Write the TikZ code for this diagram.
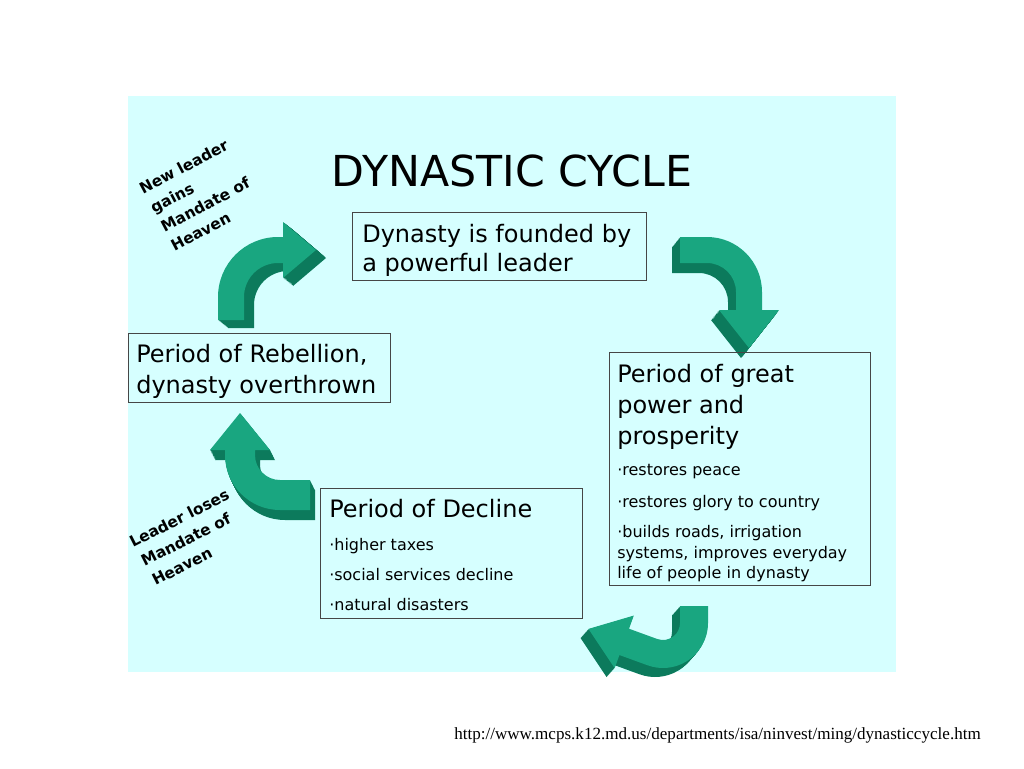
\documentclass[tikz,border=0pt]{standalone}
\usepackage{fontspec}
\setmainfont{DejaVu Sans}
\newfontfamily\urlfont{Liberation Serif}
\usetikzlibrary{calc}
\definecolor{bgcyan}{RGB}{214,255,255}
\definecolor{arrfrontc}{RGB}{25,166,128}
\definecolor{arrsidec}{RGB}{12,122,92}
\definecolor{boxline}{RGB}{70,70,70}
\tikzset{
  boxst/.style={draw=boxline, line width=0.8pt, anchor=north west, inner sep=0pt},
  boxtxt/.style={anchor=base west, inner sep=0pt, font=\fontsize{18}{18}\selectfont},
  bultxt/.style={anchor=base west, inner sep=0pt, font=\fontsize{12}{12}\selectfont},
  lbl/.style={anchor=base west, inner sep=0pt, rotate=28, font=\bfseries\fontsize{11.5}{11.5}\selectfont},
  arrfront/.style={fill=arrfrontc},
  arrside/.style={fill=arrsidec}
}
% arrow parameters: a, b, ri, ro, T, S, H, hw
\newcommand\setarrow[8]{\def\qa{#1}\def\qb{#2}\def\qri{#3}\def\qro{#4}\def\qT{#5}\def\qS{#6}\def\qH{#7}\def\qhw{#8}\pgfmathsetmacro\qmid{(#3+#4)/2}}
\newcommand\arrowbody{%
 ($(\qx,\qy)+(\qa:\qro)+(\qa-90:\qT)$) -- ($(\qx,\qy)+(\qa:\qro)$)
 arc[start angle=\qa, end angle=\qb, radius=\qro]
 -- ($(\qx,\qy)+(\qb:\qro)+(\qb+90:\qS)$)
 -- ($(\qx,\qy)+(\qb:\qmid+\qhw)+(\qb+90:\qS)$)
 -- ($(\qx,\qy)+(\qb:\qmid)+(\qb+90:\qS+\qH)$)
 -- ($(\qx,\qy)+(\qb:\qmid-\qhw)+(\qb+90:\qS)$)
 -- ($(\qx,\qy)+(\qb:\qri)+(\qb+90:\qS)$)
 -- ($(\qx,\qy)+(\qb:\qri)$)
 arc[start angle=\qb, end angle=\qa, radius=\qri]
 -- ($(\qx,\qy)+(\qa:\qri)+(\qa-90:\qT)$) -- cycle}
\newcommand\drawarrow[4]{%
 \foreach \k in {12,11,...,1}{%
   \pgfmathsetmacro\qx{#1+#3*\k/12}\pgfmathsetmacro\qy{#2+#4*\k/12}%
   \fill[arrside] \arrowbody;}
 \def\qx{#1}\def\qy{#2}\fill[arrfront] \arrowbody;}
\begin{document}
\begin{tikzpicture}[x=0.75pt,y=-0.75pt]
\useasboundingbox[fill=white] (0,0) rectangle (1024,768);
\fill[bgcyan] (128,96) rectangle (896,672);

% arrows
\setarrow{180}{270}{34}{60}{23}{5}{33}{28}
\drawarrow{278}{297}{10}{8}
\setarrow{270}{360}{29}{55}{27}{18}{38}{30}
\drawarrow{707}{292}{-8}{10}
\setarrow{0}{110}{17}{45}{17}{30}{38}{28}
\drawarrow{663}{623}{-8}{9}
\setarrow{90}{180}{25}{55}{30}{5}{37}{30}
\drawarrow{280}{455}{5}{10}

% title
\node (title) [anchor=base, inner sep=0pt, font=\fontsize{32}{32}\selectfont] at (512,186) {DYNASTIC CYCLE};

% box 1
\node (b1) [boxst, minimum width=220.5pt, minimum height=51pt] at (352,212) {};
\node (t1a) [boxtxt] at (362,242) {Dynasty is founded by};
\node (t1b) [boxtxt] at (362,271) {a powerful leader};

% box 2
\node (b2) [boxst, minimum width=196.5pt, minimum height=51.75pt] at (128,333) {};
\node (t2a) [boxtxt] at (136,362) {Period of Rebellion,};
\node (t2b) [boxtxt] at (136,393) {dynasty overthrown};

% box 3
\node (b3) [boxst, minimum width=195.75pt, minimum height=174.75pt] at (609,352) {};
\node (t3a) [boxtxt] at (617,382) {Period of great};
\node (t3b) [boxtxt] at (617,413) {power and};
\node (t3c) [boxtxt] at (617,444) {prosperity};
\node (t3d) [bultxt] at (617,475) {·restores peace};
\node (t3e) [bultxt] at (617,507) {·restores glory to country};
\node (t3f) [bultxt] at (617,537) {·builds roads, irrigation};
\node (t3g) [bultxt] at (617,558) {systems, improves everyday};
\node (t3h) [bultxt] at (617,578) {life of people in dynasty};

% box 4
\node (b4) [boxst, minimum width=196.5pt, minimum height=97.5pt] at (320,488) {};
\node (t4a) [boxtxt] at (329,517) {Period of Decline};
\node (t4b) [bultxt] at (329,550) {·higher taxes};
\node (t4c) [bultxt] at (329,580) {·social services decline};
\node (t4d) [bultxt] at (329,610) {·natural disasters};

% rotated labels
\node (l1a) [lbl] at (143,195) {New leader};
\node (l1b) [lbl] at (154,214) {gains};
\node (l1c) [lbl] at (164.5,233) {Mandate of};
\node (l1d) [lbl] at (174.5,252) {Heaven};
\node (l2a) [lbl, rotate=-1] at (133,548) {Leader loses};
\node (l2b) [lbl, rotate=-1] at (144.5,567) {Mandate of};
\node (l2c) [lbl, rotate=-1] at (155.5,586) {Heaven};

% footer
\node (url) [anchor=base west, inner sep=0pt, font=\urlfont\fontsize{12.8}{12.8}\selectfont] at (454,739) {http://www.mcps.k12.md.us/departments/isa/ninvest/ming/dynasticcycle.htm};
\end{tikzpicture}
\end{document}
